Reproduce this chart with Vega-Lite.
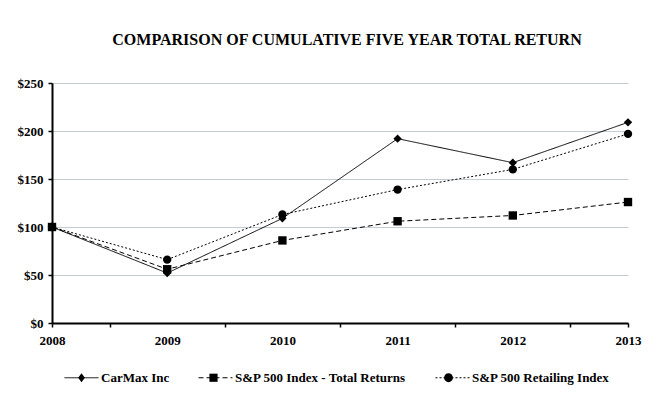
{
  "$schema": "https://vega.github.io/schema/vega-lite/v6.json",
  "width": 576,
  "height": 240,
  "autosize": {"type": "none"},
  "padding": {"left": 52, "top": 83, "right": 23, "bottom": 75},
  "background": "white",
  "title": {
    "text": "COMPARISON OF CUMULATIVE FIVE YEAR TOTAL RETURN",
    "font": "Liberation Serif",
    "fontSize": 16,
    "fontWeight": "bold",
    "color": "black",
    "anchor": "middle",
    "offset": 29,
    "dx": 7
  },
  "data": {
    "values": [
      {"year": 2008, "series": "CarMax Inc", "value": 100},
      {"year": 2009, "series": "CarMax Inc", "value": 52},
      {"year": 2010, "series": "CarMax Inc", "value": 109},
      {"year": 2011, "series": "CarMax Inc", "value": 192},
      {"year": 2012, "series": "CarMax Inc", "value": 167},
      {"year": 2013, "series": "CarMax Inc", "value": 209},
      {"year": 2008, "series": "S&P 500 Index - Total Returns", "value": 100},
      {"year": 2009, "series": "S&P 500 Index - Total Returns", "value": 56},
      {"year": 2010, "series": "S&P 500 Index - Total Returns", "value": 86},
      {"year": 2011, "series": "S&P 500 Index - Total Returns", "value": 106},
      {"year": 2012, "series": "S&P 500 Index - Total Returns", "value": 112},
      {"year": 2013, "series": "S&P 500 Index - Total Returns", "value": 126},
      {"year": 2008, "series": "S&P 500 Retailing Index", "value": 100},
      {"year": 2009, "series": "S&P 500 Retailing Index", "value": 66},
      {"year": 2010, "series": "S&P 500 Retailing Index", "value": 113},
      {"year": 2011, "series": "S&P 500 Retailing Index", "value": 139},
      {"year": 2012, "series": "S&P 500 Retailing Index", "value": 160},
      {"year": 2013, "series": "S&P 500 Retailing Index", "value": 197}
    ]
  },
  "encoding": {
    "x": {
      "field": "year",
      "type": "quantitative",
      "scale": {"domain": [2008, 2013], "nice": false, "zero": false},
      "axis": {
        "title": null,
        "grid": false,
        "values": [2008, 2008.5, 2009, 2009.5, 2010, 2010.5, 2011, 2011.5, 2012, 2012.5, 2013],
        "labelExpr": "datum.value % 1 === 0 ? '' + datum.value : ''",
        "tickOpacity": {"condition": {"test": "datum.value % 1 === 0 && datum.value > 2008 && datum.value < 2013", "value": 0}, "value": 1},
        "labelFlush": false,
        "labelOverlap": false,
        "labelBound": false,
        "labelPadding": 7
      }
    },
    "y": {
      "field": "value",
      "type": "quantitative",
      "scale": {"domain": [0, 250], "nice": false},
      "axis": {
        "title": null,
        "values": [0, 50, 100, 150, 200, 250],
        "labelExpr": "'$' + datum.value",
        "grid": true,
        "gridColor": "#c3cbd3",
        "gridWidth": 1,
        "labelPadding": 5
      }
    }
  },
  "layer": [
    {
      "mark": {"type": "line", "color": "black", "strokeWidth": 1},
      "encoding": {
        "strokeDash": {
          "field": "series",
          "type": "nominal",
          "scale": {
            "domain": ["CarMax Inc", "S&P 500 Index - Total Returns", "S&P 500 Retailing Index"],
            "range": [[1, 0], [5, 3], [2, 2]]
          },
          "legend": {"title": null}
        }
      }
    },
    {
      "mark": {"type": "point", "filled": true, "color": "black", "opacity": 0, "size": 1156},
      "encoding": {
        "shape": {
          "field": "series",
          "type": "nominal",
          "scale": {
            "domain": ["CarMax Inc", "S&P 500 Retailing Index", "S&P 500 Index - Total Returns"],
            "range": [
              "M0,-0.27L0.2,0L0,0.27L-0.2,0Z",
              "M0.26,0A0.26,0.26 0 1,1 -0.26,0A0.26,0.26 0 1,1 0.26,0Z",
              "M-0.24,-0.24L0.24,-0.24L0.24,0.24L-0.24,0.24Z"
            ]
          },
          "legend": {
            "title": null,
            "values": ["CarMax Inc", "S&P 500 Index - Total Returns", "S&P 500 Retailing Index"],
            "labelOpacity": 0
          }
        }
      }
    },
    {
      "transform": [{"filter": "datum.series === 'CarMax Inc'"}],
      "mark": {"type": "point", "filled": true, "color": "black", "opacity": 1, "size": 70, "shape": "diamond"}
    },
    {
      "transform": [{"filter": "datum.series === 'S&P 500 Index - Total Returns'"}],
      "mark": {"type": "point", "filled": true, "color": "black", "opacity": 1, "size": 70, "shape": "square"}
    },
    {
      "transform": [{"filter": "datum.series === 'S&P 500 Retailing Index'"}],
      "mark": {"type": "point", "filled": true, "color": "black", "opacity": 1, "size": 70, "shape": "circle"}
    }
  ],
  "config": {
    "view": {"stroke": null},
    "axis": {
      "domainColor": "black",
      "domainWidth": 2,
      "tickColor": "black",
      "tickWidth": 1.5,
      "tickSize": 4,
      "labelFont": "Liberation Serif",
      "labelFontSize": 13,
      "labelFontWeight": "bold",
      "labelColor": "black"
    },
    "legend": {
      "orient": "none",
      "direction": "horizontal",
      "legendX": 12,
      "legendY": 277,
      "columnPadding": 26,
      "symbolSize": 1156,
      "symbolOpacity": 1,
      "symbolStrokeWidth": 1,
      "symbolStrokeColor": "black",
      "symbolFillColor": "black",
      "labelFont": "Liberation Serif",
      "labelFontSize": 13,
      "labelFontWeight": "bold",
      "labelColor": "black",
      "labelOffset": 2,
      "labelLimit": 400
    }
  }
}
